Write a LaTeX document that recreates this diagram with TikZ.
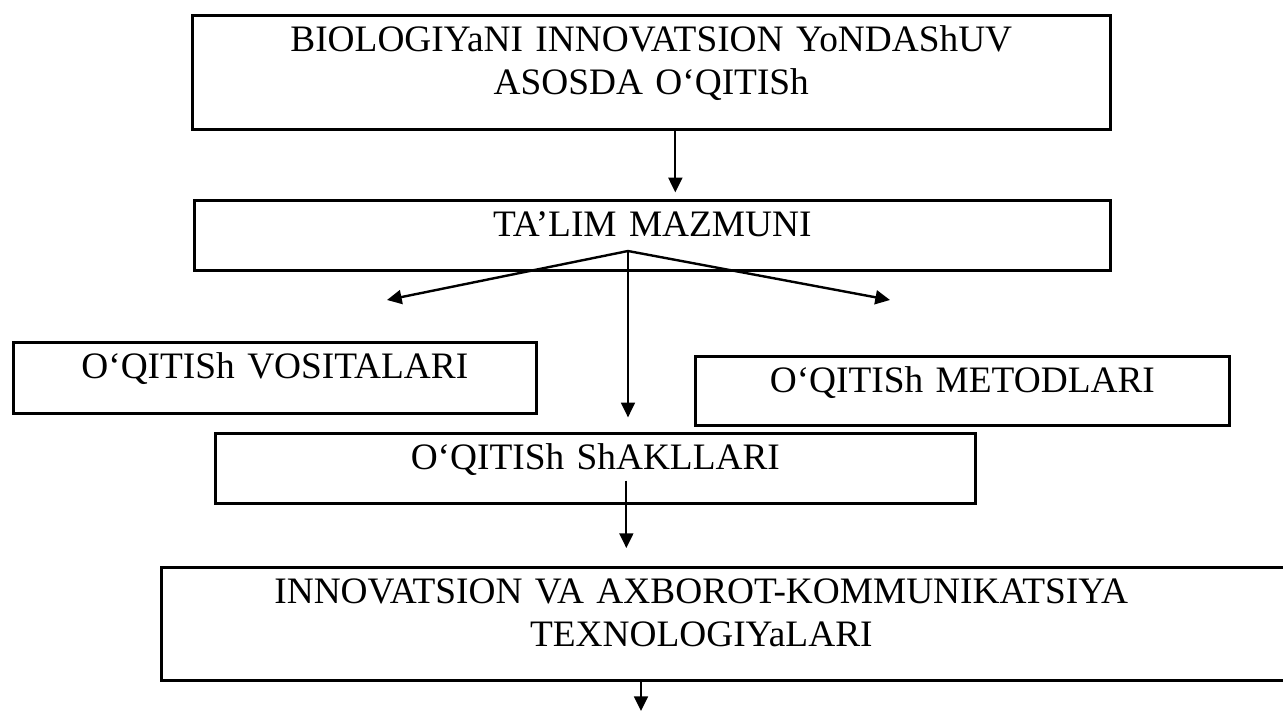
\documentclass[tikz,border=0pt]{standalone}
\usepackage{fontspec}
\setmainfont{Liberation Serif}
\usetikzlibrary{arrows.meta}

\begin{document}
\begin{tikzpicture}[
  x=0.75pt, y=-0.75pt,
  every node/.style={font=\fontsize{28pt}{32.25pt}\selectfont},
  box/.style={rectangle, draw, line width=2pt, anchor=north west, inner sep=0pt, align=center, text height=27pt},
  line/.style={-{Triangle[length=11pt, width=10.5pt]}, line width=1.3pt}
]
\useasboundingbox (0,0) rectangle (1283,711);

\node[box, text width=688.5pt, text depth=58.5pt] (goal) at (191,14)
{BIOLOGIYaNI INNOVATSION YoNDAShUV\\ASOSDA O‘QITISh};

\node[box, text width=687pt, text depth=25.5pt] (content) at (193,199)
{TA’LIM MAZMUNI};

\node[box, text width=392.25pt, text depth=26.25pt] (tools) at (12,341)
{O‘QITISh VOSITALARI};

\node[box, text width=400.5pt, text depth=24.75pt] (methods) at (694,355)
{O‘QITISh METODLARI};

\node[box, text width=570pt, text depth=25.5pt] (forms) at (214,432)
{O‘QITISh ShAKLLARI};

\node[box, text width=855pt, text depth=57.75pt] (ict) at (160,566)
{INNOVATSION VA AXBOROT-KOMMUNIKATSIYA\kern45pt\\TEXNOLOGIYaLARI\kern45pt};

\coordinate (split) at (628,251);
\coordinate (toolstip) at (387,300);
\coordinate (methodstip) at (890,300);
\coordinate (outlet) at (641,711);

\draw[line, shorten >=5pt] ([xshift=18pt]goal.south) -- ([xshift=18pt]goal.south |- content.north);

\draw[line, line width=1.8pt] (split) -- (toolstip);
\draw[line, line width=1.8pt] (split) -- (methodstip);
\draw[line, shorten >=11pt] (split) -- (split |- forms.north);

\draw[line, shorten >=13.5pt] ([shift={(23.25pt,18pt)}]forms.south) -- ([xshift=23.25pt]forms.south |- ict.north);
\draw[line] (outlet |- ict.south) -- (outlet);

\end{tikzpicture}
\end{document}
